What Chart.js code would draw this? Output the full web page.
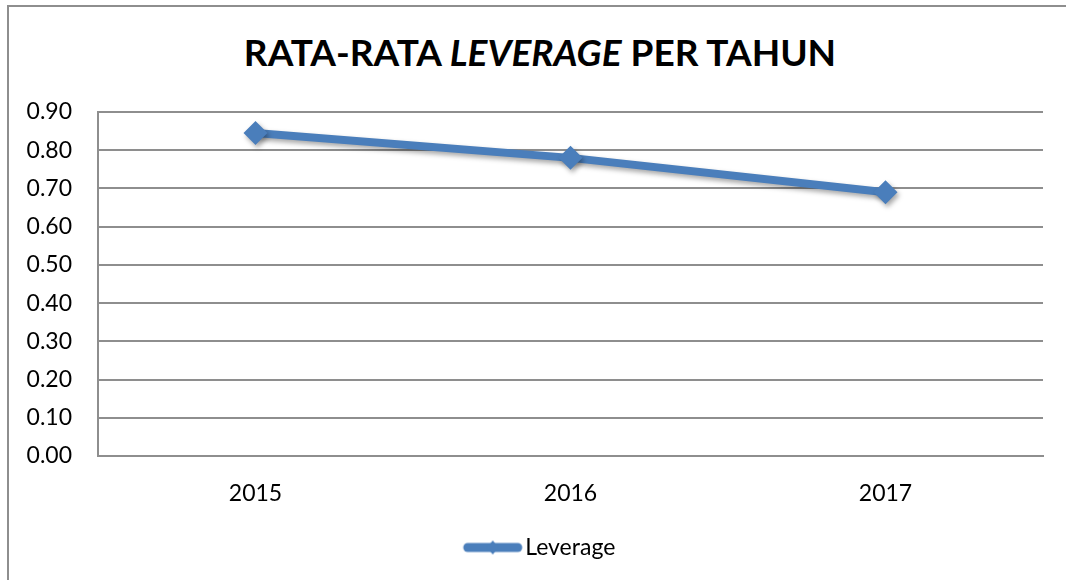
<!DOCTYPE html>
<html>
<head>
<meta charset="utf-8">
<script src="https://cdn.jsdelivr.net/npm/chart.js@4.4.1/dist/chart.umd.min.js"></script>
<style>
  html, body { margin: 0; padding: 0; background: #fff; }
  #wrap { position: relative; width: 1066px; height: 580px; }
  #frame { position: absolute; left: 7px; top: 5px; right: 0; bottom: 0;
           border-top: 2px solid #8e8e8e; border-left: 2px solid #8e8e8e; }
  #title { position: absolute; left: 0; width: 1080px; top: 29px; text-align: center;
           font-family: Lato, sans-serif; font-weight: bold; font-size: 37px; color: #000; }
  canvas { position: absolute; left: 0; top: 0; }
</style>
</head>
<body>
<div id="wrap">
  <div id="frame"></div>
  <div id="title">RATA-RATA <i>LEVERAGE</i> PER TAHUN</div>
  <canvas id="chart" width="1066" height="580"></canvas>
</div>
<script>
const tahun = ["2015", "2016", "2017"];
const leverage = [0.845, 0.78, 0.69];
const seriesName = "Leverage";
const blue = "#4a7ebb";

// legend symbol: thick line with a small diamond in the middle
const legendIcon = document.createElement("canvas");
legendIcon.width = 106;
legendIcon.height = 20;
(function () {
  const c = legendIcon.getContext("2d");
  c.strokeStyle = blue;
  c.lineWidth = 9;
  c.lineCap = "round";
  c.beginPath();
  c.moveTo(50, 10);
  c.lineTo(100, 10);
  c.stroke();
  c.fillStyle = blue;
  c.beginPath();
  c.moveTo(75, 3);
  c.lineTo(81, 10);
  c.lineTo(75, 17);
  c.lineTo(69, 10);
  c.closePath();
  c.fill();
})();

const shadowPlugin = {
  id: "shadow",
  beforeDatasetsDraw(chart) {
    const ctx = chart.ctx;
    ctx.save();
    ctx.shadowColor = "rgba(0,0,0,0.35)";
    ctx.shadowBlur = 5;
    ctx.shadowOffsetX = 2;
    ctx.shadowOffsetY = 3;
  },
  afterDatasetsDraw(chart) {
    chart.ctx.restore();
  },
};

new Chart(document.getElementById("chart"), {
  type: "line",
  data: {
    labels: tahun,
    datasets: [
      {
        label: seriesName,
        data: leverage,
        borderColor: blue,
        backgroundColor: blue,
        borderWidth: 8,
        pointStyle: "rectRot",
        pointRadius: 12,
        pointHoverRadius: 12,
        pointBackgroundColor: blue,
        pointBorderColor: blue,
        pointBorderWidth: 0,
        tension: 0,
      },
    ],
  },
  options: {
    responsive: false,
    animation: false,
    devicePixelRatio: 1,
    layout: { padding: { top: 112, right: 23, left: 0, bottom: 11 } },
    plugins: {
      title: { display: false },
      tooltip: { enabled: false },
      legend: {
        display: true,
        position: "bottom",
        labels: {
          usePointStyle: true,
          pointStyleWidth: 86,
          padding: 10,
          color: "#000",
          font: { family: "Lato, sans-serif", size: 23 },
          generateLabels: (chart) => [
            {
              text: seriesName,
              pointStyle: legendIcon,
              fillStyle: blue,
              strokeStyle: blue,
              lineWidth: 0,
              datasetIndex: 0,
            },
          ],
        },
      },
    },
    scales: {
      x: {
        offset: true,
        grid: { display: false, drawTicks: false },
        border: { display: true, color: "#8e8e8e", width: 2 },
        ticks: {
          color: "#000",
          padding: 24,
          font: { family: "Lato, sans-serif", size: 23 },
        },
        afterFit: (s) => { s.height = 70; },
      },
      y: {
        min: 0,
        max: 0.9,
        ticks: {
          stepSize: 0.1,
          color: "#000",
          padding: 26,
          font: { family: "Lato, sans-serif", size: 23 },
          callback: (v) => Number(v).toFixed(2),
        },
        grid: { color: "#8e8e8e", lineWidth: 2, drawTicks: false },
        border: { display: true, color: "#8e8e8e", width: 2 },
        afterFit: (s) => { s.width = 98; },
      },
    },
  },
  plugins: [shadowPlugin],
});
</script>
</body>
</html>
